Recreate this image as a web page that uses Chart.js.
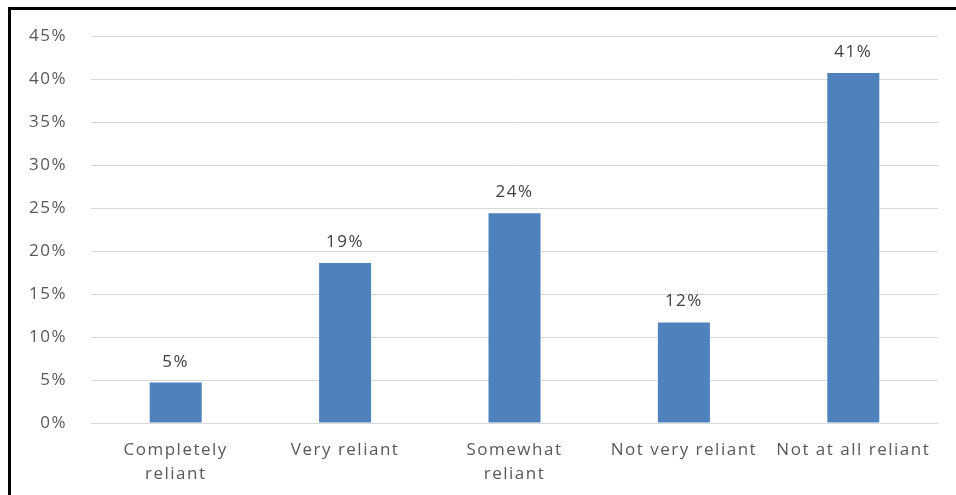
<!DOCTYPE html>
<html lang="en">
<head>
    <meta charset="UTF-8">
    <title>Reliance chart</title>
    <script src="https://cdn.jsdelivr.net/npm/chart.js"></script>
    <style>
        html, body { margin: 0; padding: 0; background: #fff; overflow: hidden; }
        .wrap { position: relative; width: 956px; height: 495px; }
        .frame {
            position: absolute; left: 8px; top: 7px; width: 1000px; height: 600px;
            border: 3px solid #000; pointer-events: none;
        }
    </style>
</head>
<body>
    <div class="wrap">
        <canvas id="barChart" width="956" height="495"></canvas>
        <div class="frame"></div>
    </div>

    <script>
        // categories and values (percent)
        const categories = [['Completely', 'reliant'], 'Very reliant', ['Somewhat', 'reliant'], 'Not very reliant', 'Not at all reliant'];
        const shares = [4.7, 18.6, 24.4, 11.7, 40.7];
        const yTicks = [0, 5, 10, 15, 20, 25, 30, 35, 40, 45];

        const FONT = "'Open Sans', sans-serif";

        // excel-ish spaced text
        const spacing = {
            id: 'spacing',
            beforeInit(chart) { chart.ctx.letterSpacing = '1.5px'; },
            beforeDraw(chart) { chart.ctx.letterSpacing = '1.5px'; }
        };

        // value labels above bars
        const barLabels = {
            id: 'barLabels',
            afterDatasetsDraw(chart) {
                const ctx = chart.ctx;
                ctx.save();
                ctx.letterSpacing = '1.5px';
                ctx.font = '17px ' + FONT;
                ctx.fillStyle = '#404040';
                ctx.textAlign = 'center';
                ctx.textBaseline = 'alphabetic';
                chart.getDatasetMeta(0).data.forEach((bar, i) => {
                    ctx.fillText(Math.round(shares[i]) + '%', bar.x, bar.y - 16);
                });
                ctx.restore();
            }
        };

        const ctx = document.getElementById('barChart').getContext('2d');
        new Chart(ctx, {
            type: 'bar',
            data: {
                labels: categories,
                datasets: [{
                    data: shares,
                    backgroundColor: '#4f81bd',
                    borderWidth: 0,
                    categoryPercentage: 1,
                    barPercentage: 0.307
                }]
            },
            options: {
                responsive: false,
                animation: false,
                layout: { padding: { top: 36, right: 18, bottom: 0, left: 0 } },
                plugins: { legend: { display: false }, tooltip: { enabled: false } },
                scales: {
                    x: {
                        grid: { display: false, drawTicks: false },
                        border: { display: true, color: '#d9d9d9', width: 1 },
                        ticks: {
                            color: '#595959', padding: 15, maxRotation: 0, autoSkip: false,
                            font: { family: FONT, size: 17, lineHeight: 1.4 }
                        },
                        afterFit(s) { s.height = 72; }
                    },
                    y: {
                        min: 0, max: 45,
                        afterBuildTicks(s) { s.ticks = yTicks.map(v => ({ value: v })); },
                        grid: { color: '#d9d9d9', lineWidth: 1, drawTicks: false },
                        border: { display: false },
                        ticks: {
                            color: '#595959', padding: 24,
                            font: { family: FONT, size: 17 },
                            callback: v => v + '%'
                        },
                        afterFit(s) { s.width = 91; }
                    }
                }
            },
            plugins: [spacing, barLabels]
        });
    </script>
</body>
</html>
